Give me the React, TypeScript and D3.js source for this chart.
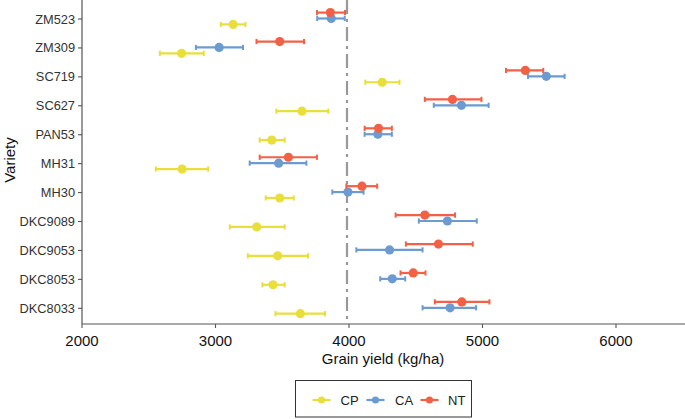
import React from "react";
import * as d3 from "d3";

const varieties = ["ZM523", "ZM309", "SC719", "SC627", "PAN53", "MH31", "MH30", "DKC9089", "DKC9053", "DKC8053", "DKC8033"];
const seriesNames = ["CP", "CA", "NT"];
const seriesColors = ["#E8DF3C", "#6B9BD1", "#F26146"];

const cpMean = [3132, 2746, 4249, 3648, 3421, 2750, 3481, 3309, 3466, 3431, 3636];
const cpLo = [3040, 2583, 4122, 3456, 3331, 2553, 3376, 3107, 3242, 3351, 3449];
const cpHi = [3224, 2912, 4378, 3845, 3518, 2945, 3586, 3518, 3693, 3518, 3820];

const caMean = [3867, 3027, 5478, 4842, 4216, 3473, 3992, 4737, 4304, 4324, 4757];
const caLo = [3762, 2853, 5341, 4635, 4117, 3256, 3875, 4523, 4055, 4234, 4551];
const caHi = [3968, 3206, 5615, 5046, 4321, 3681, 4109, 4957, 4551, 4421, 4952];

const ntMean = [3860, 3481, 5321, 4775, 4221, 3546, 4097, 4568, 4670, 4481, 4845];
const ntLo = [3760, 3307, 5176, 4568, 4117, 3331, 3980, 4349, 4426, 4386, 4643];
const ntHi = [3970, 3663, 5455, 4992, 4321, 3760, 4211, 4794, 4927, 4573, 5052];

const xTicks = [2000, 3000, 4000, 5000, 6000];
const refLine = 3985;

const series = [
  { name: "CP", mean: cpMean, lo: cpLo, hi: cpHi },
  { name: "CA", mean: caMean, lo: caLo, hi: caHi },
  { name: "NT", mean: ntMean, lo: ntLo, hi: ntHi },
];

export default function App() {
  const W = 685, H = 419;
  const left = 82, bottom = 324;
  const x = d3.scaleLinear().domain([2000, 6000]).range([left, 616]);
  const y = d3.scalePoint<string>().domain(varieties).range([19, 308.3]);
  const dodge = d3.scalePoint<string>().domain(["NT", "CA", "CP"]).range([-6.4, 5.4]);
  const color = d3.scaleOrdinal<string, string>().domain(seriesNames).range(seriesColors);
  const font = "'Liberation Sans', Arial, sans-serif";

  const legendItems = [
    { name: "CP", lx: 312.5, tx: 340.5 },
    { name: "CA", lx: 366.5, tx: 395 },
    { name: "NT", lx: 420.5, tx: 448 },
  ];

  return (
    <svg width={W} height={H} style={{ position: "absolute", left: 0, top: 0, background: "#fff" }} fontFamily={font}>
      <rect x={0} y={0} width={W} height={H} fill="#fff" />
      {/* reference line */}
      <line x1={x(refLine)} x2={x(refLine)} y1={0} y2={bottom} stroke="#999" strokeWidth={2.2} strokeDasharray="14 5 3 5" />
      {/* series */}
      {series.map((s) => (
        <g key={s.name}>
          {varieties.map((v, i) => {
            const cy = (y(v) as number) + (dodge(s.name) as number);
            const c = color(s.name);
            return (
              <g key={v}>
                <line x1={x(s.lo[i])} x2={x(s.hi[i])} y1={cy} y2={cy} stroke={c} strokeWidth={2.2} />
                <line x1={x(s.lo[i])} x2={x(s.lo[i])} y1={cy - 2.6} y2={cy + 2.6} stroke={c} strokeWidth={2} />
                <line x1={x(s.hi[i])} x2={x(s.hi[i])} y1={cy - 2.6} y2={cy + 2.6} stroke={c} strokeWidth={2} />
                <circle cx={x(s.mean[i])} cy={cy} r={4.6} fill={c} />
              </g>
            );
          })}
        </g>
      ))}
      {/* axes */}
      <line x1={left} x2={left} y1={0} y2={bottom} stroke="#555" strokeWidth={1.2} />
      <line x1={left} x2={W} y1={bottom} y2={bottom} stroke="#555" strokeWidth={1.2} />
      {varieties.map((v) => (
        <g key={v}>
          <line x1={left - 4} x2={left} y1={y(v)} y2={y(v)} stroke="#555" strokeWidth={1.1} />
          <text x={left - 7} y={(y(v) as number) + 4.5} textAnchor="end" fontSize={12.8} fill="#333">{v}</text>
        </g>
      ))}
      {xTicks.map((t) => (
        <g key={t}>
          <line x1={x(t)} x2={x(t)} y1={bottom} y2={bottom + 4} stroke="#555" strokeWidth={1.1} />
          <text x={x(t)} y={bottom + 22} textAnchor="middle" fontSize={15} fill="#111">{t}</text>
        </g>
      ))}
      <text x={383} y={364} textAnchor="middle" fontSize={15} fill="#111">Grain yield (kg/ha)</text>
      <text transform={`translate(15,160) rotate(-90)`} textAnchor="middle" fontSize={15} fill="#111">Variety</text>
      {/* legend */}
      <rect x={295.5} y={380.5} width={176} height={36.5} fill="#fff" stroke="#333" strokeWidth={1} />
      {legendItems.map((it) => (
        <g key={it.name}>
          <line x1={it.lx} x2={it.lx + 18} y1={400} y2={400} stroke={color(it.name)} strokeWidth={2.2} />
          <circle cx={it.lx + 9} cy={400} r={3.6} fill={color(it.name)} />
          <text x={it.tx} y={404.8} fontSize={13} fill="#222">{it.name}</text>
        </g>
      ))}
    </svg>
  );
}
